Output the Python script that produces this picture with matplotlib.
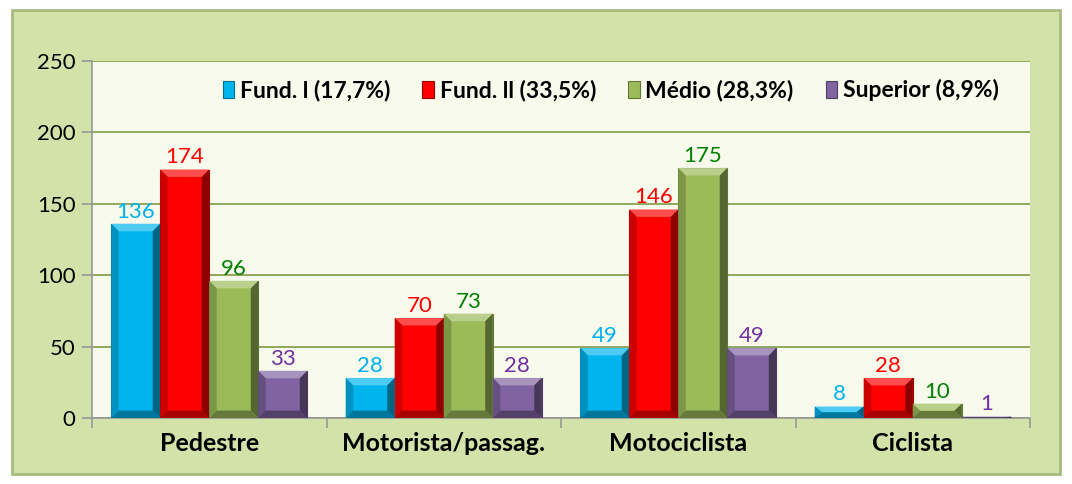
import numpy as np
import matplotlib
matplotlib.use('Agg')
import matplotlib.pyplot as plt
from matplotlib.patches import Rectangle, Polygon
from matplotlib.colors import to_rgb

plt.rcParams['font.family'] = ['Lato', 'DejaVu Sans']

categories = ['Pedestre', 'Motorista/passag.', 'Motociclista', 'Ciclista']
series_names = ['Fund. l (17,7%)', 'Fund. ll (33,5%)', 'Médio (28,3%)', 'Superior (8,9%)']
fund1 = [136, 28, 49, 8]
fund2 = [174, 70, 146, 28]
medio = [96, 73, 175, 10]
superior = [33, 28, 49, 1]

bar_colors = ['#00b5ee', '#ff0000', '#9bbb59', '#8064a2']
edge_colors = ['#0a6d92', '#9a0000', '#62793a', '#4e3d68']
label_colors = ['#00b0f0', '#ff0000', '#008000', '#7030a0']


def shade(c, f):
    # f > 0 lighten toward white, f < 0 darken toward black
    r = np.array(to_rgb(c))
    if f > 0:
        return tuple(r + (1 - r) * f)
    return tuple(r * (1 + f))


fig = plt.figure(figsize=(10.72, 4.84), dpi=100)
fig.patch.set_facecolor('white')
# outer green frame
fig.patches.append(Rectangle((12 / 1072, 10 / 484), 1048 / 1072, 464 / 484,
                             transform=fig.transFigure, facecolor='#d3e2a9',
                             edgecolor='#a9ba80', linewidth=2, zorder=-5))

ax = fig.add_axes([92 / 1072, 1 - 418 / 484, 938 / 1072, 357 / 484])
ax.set_zorder(2)
ax.set_facecolor('#f8fbeb')

x = np.arange(len(categories))
w = 0.209
bx, by = 0.032, 5.2   # bevel size in data units
all_series = [fund1, fund2, medio, superior]
for i, vals in enumerate(all_series):
    pos = x + (i - 1.5) * w
    bars = ax.bar(pos, vals, w, color=bar_colors[i], edgecolor=edge_colors[i],
                  linewidth=0.8, label=series_names[i], zorder=3)
    # bevel shading from the drawn bars
    for r in bars.patches:
        x0, y0 = r.get_x(), r.get_y()
        x1, y1 = x0 + r.get_width(), y0 + r.get_height()
        ex = min(bx, r.get_width() / 2)
        ey = min(by, r.get_height() / 2)
        faces = [
            ([(x0, y1), (x1, y1), (x1 - ex, y1 - ey), (x0 + ex, y1 - ey)], 0.3),
            ([(x0, y0), (x0, y1), (x0 + ex, y1 - ey), (x0 + ex, y0 + ey)], -0.2),
            ([(x1, y0), (x1, y1), (x1 - ex, y1 - ey), (x1 - ex, y0 + ey)], -0.45),
            ([(x0, y0), (x1, y0), (x1 - ex, y0 + ey), (x0 + ex, y0 + ey)], -0.35),
        ]
        for pts, f in faces:
            ax.add_patch(Polygon(pts, closed=True, facecolor=shade(bar_colors[i], f),
                                 edgecolor='none', zorder=3.5))
    for p, v in zip(pos, vals):
        ax.text(p, v + 1.5, str(v), ha='center', va='bottom', fontsize=16,
                color=label_colors[i], zorder=4)

ax.set_xlim(-0.5, 3.5)
ax.set_ylim(0, 250)
ax.set_yticks(range(0, 251, 50))
ax.yaxis.grid(True, color='#7f9a45', linewidth=1.2, zorder=1)
ax.set_axisbelow(True)
ax.set_xticks(x)
ax.set_xticklabels(categories, fontsize=18, fontweight='bold')
ax.set_xticks(np.arange(-0.5, 4, 1), minor=True)
ax.tick_params(axis='x', which='major', length=0, pad=10)
ax.tick_params(axis='x', which='minor', length=7, color='#999999', width=1.2)
ax.tick_params(axis='y', labelsize=16, length=7, color='#999999', width=1.2, pad=5)

for s in ['top', 'right']:
    ax.spines[s].set_visible(False)
ax.spines['left'].set_color('#999999')
ax.spines['bottom'].set_color('#999999')
ax.spines['left'].set_linewidth(1.2)
ax.spines['bottom'].set_linewidth(1.2)

ax.legend(loc='upper center', bbox_to_anchor=(0.553, 1.0), ncol=4, frameon=False,
          prop={'weight': 'bold', 'size': 16.5}, handlelength=0.5, handleheight=0.8,
          handletextpad=0.25, columnspacing=1.4, borderaxespad=0.4)

fig.savefig('out.png', dpi=100, facecolor=fig.get_facecolor())
